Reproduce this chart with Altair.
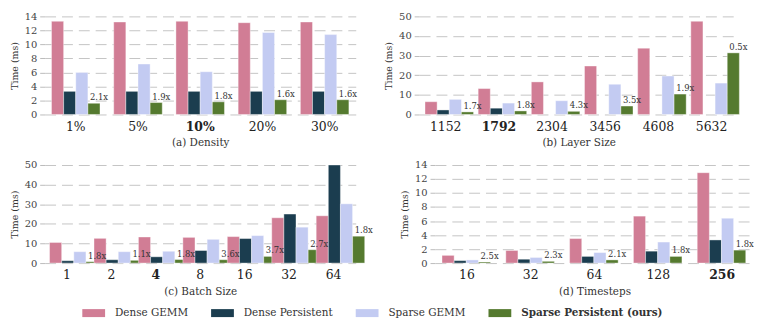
import altair as alt
import pandas as pd

SERIES = ["Dense GEMM", "Dense Persistent", "Sparse GEMM", "Sparse Persistent (ours)"]
COLORS = ["#d17d95", "#1b3d4f", "#c3cbf2", "#557a2f"]

# (a) Density
a_cats = ["1%", "5%", "10%", "20%", "30%"]
a_dense_gemm = [13.3, 13.2, 13.3, 13.1, 13.2]
a_dense_pers = [3.3, 3.3, 3.3, 3.3, 3.3]
a_sparse_gemm = [6.0, 7.2, 6.1, 11.7, 11.4]
a_sparse_pers = [1.6, 1.7, 1.8, 2.1, 2.1]
a_labels = ["2.1x", "1.9x", "1.8x", "1.6x", "1.6x"]

# (b) Layer Size
b_cats = ["1152", "1792", "2304", "3456", "4608", "5632"]
b_dense_gemm = [6.5, 13.2, 16.6, 24.7, 33.8, 47.5]
b_dense_pers = [2.3, 3.2, None, None, None, None]
b_sparse_gemm = [7.7, 5.8, 7.0, 15.4, 19.6, 16.0]
b_sparse_pers = [1.3, 1.8, 1.6, 4.3, 10.4, 31.4]
b_labels = ["1.7x", "1.8x", "4.3x", "3.5x", "1.9x", "0.5x"]

# (c) Batch Size
c_cats = ["1", "2", "4", "8", "16", "32", "64"]
c_dense_gemm = [10.5, 12.6, 13.3, 13.1, 13.5, 23.1, 24.1]
c_dense_pers = [1.2, 1.7, 3.2, 6.4, 12.5, 25.0, 50.0]
c_sparse_gemm = [5.8, 5.8, 6.0, 12.1, 14.0, 18.3, 30.2]
c_sparse_pers = [0.7, 1.4, 1.8, 1.7, 3.4, 6.8, 13.7]
c_labels = ["1.8x", "1.1x", "1.8x", "3.6x", "3.7x", "2.7x", "1.8x"]

# (d) Timesteps
d_cats = ["16", "32", "64", "128", "256"]
d_dense_gemm = [1.1, 1.8, 3.5, 6.7, 12.9]
d_dense_pers = [0.35, 0.55, 0.95, 1.7, 3.3]
d_sparse_gemm = [0.45, 0.8, 1.5, 3.0, 6.4]
d_sparse_pers = [0.15, 0.25, 0.45, 0.95, 1.85]
d_labels = ["2.5x", "2.3x", "2.1x", "1.8x", "1.8x"]

FONT = "DejaVu Serif"


def panel(cats, dg, dp, sg, sp, labels, bold, title, ymax, ystep, width):
    rows = []
    for i, c in enumerate(cats):
        for s, v in zip(SERIES, [dg[i], dp[i], sg[i], sp[i]]):
            rows.append({"cat": c, "series": s, "time": v})
    df = pd.DataFrame(rows)
    lab = pd.DataFrame({"cat": cats, "series": [SERIES[3]] * len(cats),
                        "time": sp, "label": labels})

    xaxis = alt.Axis(title=title, labelAngle=0, ticks=False, domain=False,
                     labelFontSize=12.5, labelColor="#222", labelPadding=6,
                     labelFontWeight={"expr": f"datum.value == '{bold}' ? 'bold' : 'normal'"},
                     titleFontSize=10.5, titleFontWeight="normal", titleColor="#333",
                     titlePadding=5, grid=False)
    yaxis = alt.Axis(title="Time (ms)", values=list(range(0, ymax + 1, ystep)),
                     domain=False, tickSize=5, tickColor="#bbbbbb",
                     labelFontSize=10, labelColor="#444", labelPadding=3,
                     titleFontSize=9.5, titleFontWeight="normal", titleColor="#333",
                     titlePadding=5, grid=True, gridDash=[11, 6], gridColor="#c4c4c4",
                     gridWidth=1)
    xenc = alt.X("cat:N", sort=cats, axis=xaxis,
                 scale=alt.Scale(paddingInner=0.22, paddingOuter=0.11))
    xoff = alt.XOffset("series:N", sort=SERIES, scale=alt.Scale(domain=SERIES))
    yenc = alt.Y("time:Q", axis=yaxis, scale=alt.Scale(domain=[0, ymax], nice=False))

    bars = alt.Chart(df).mark_bar(stroke="white", strokeWidth=0.4).encode(
        x=xenc, xOffset=xoff, y=yenc,
        color=alt.Color("series:N", sort=SERIES,
                        scale=alt.Scale(domain=SERIES, range=COLORS),
                        legend=alt.Legend(title=None, orient="none", direction="horizontal",
                                          columns=4, legendX=38, legendY=288,
                                          symbolType="M-1,-0.35L1,-0.35L1,0.35L-1,0.35Z",
                                          symbolSize=529, symbolStrokeWidth=0,
                                          labelFontSize=10.5, labelColor="#333",
                                          labelOffset=10, columnPadding=23,
                                          labelFontWeight={"expr": "datum.label == 'Sparse Persistent (ours)' ? 'bold' : 'normal'"},
                                          labelLimit=300)),
    )
    text = alt.Chart(lab).mark_text(align="left", baseline="bottom", dx=-4, dy=-1,
                                    fontSize=8.5, color="#333", font=FONT).encode(
        x=xenc, xOffset=xoff, y=yenc, text="label:N")
    return alt.layer(bars, text).properties(width=width, height=99)


pa = panel(a_cats, a_dense_gemm, a_dense_pers, a_sparse_gemm, a_sparse_pers, a_labels,
           "10%", "(a) Density", 14, 2, 314)
pb = panel(b_cats, b_dense_gemm, b_dense_pers, b_sparse_gemm, b_sparse_pers, b_labels,
           "1792", "(b) Layer Size", 50, 10, 322)
pc = panel(c_cats, c_dense_gemm, c_dense_pers, c_sparse_gemm, c_sparse_pers, c_labels,
           "4", "(c) Batch Size", 50, 10, 314)
pd_ = panel(d_cats, d_dense_gemm, d_dense_pers, d_sparse_gemm, d_sparse_pers, d_labels,
            "256", "(d) Timesteps", 14, 2, 322)

chart = alt.vconcat(
    alt.hconcat(pa, pb, spacing=26),
    alt.hconcat(pc, pd_, spacing=26),
    spacing=12,
).properties(
    padding={"top": 2, "left": 1, "right": 0, "bottom": 0}
).configure(font=FONT).configure_view(stroke=None)

chart.save("out.html", embed_options={"renderer": "svg", "actions": False})
